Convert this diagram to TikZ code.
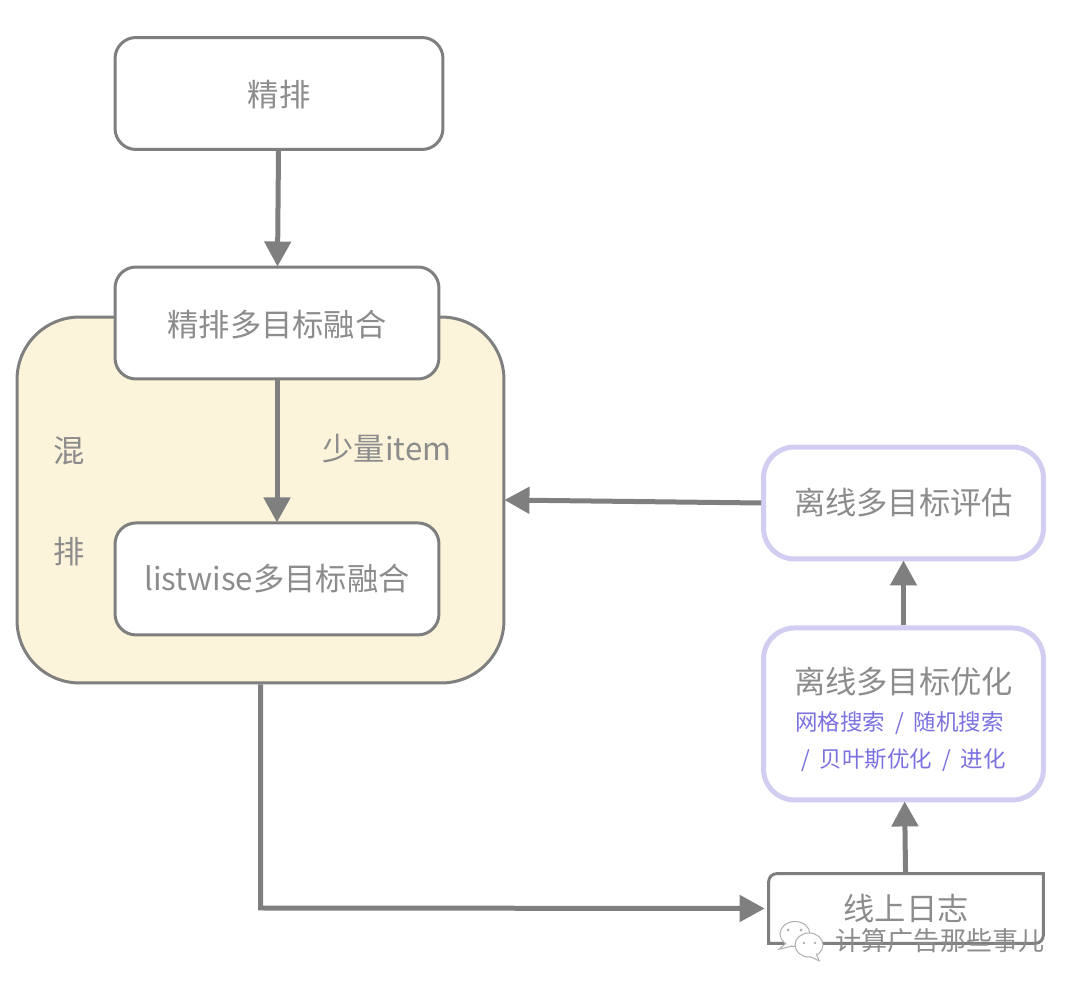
\documentclass[tikz,border=0pt]{standalone}
\usepackage{fontspec}
\setmainfont{Noto Sans CJK SC}
\usetikzlibrary{arrows.meta,positioning,calc,shapes.geometric}
\definecolor{linegray}{HTML}{7F7F7F}
\definecolor{textgray}{HTML}{8C8C8C}
\definecolor{mixyellow}{HTML}{FBF3DA}
\definecolor{lilac}{HTML}{D2CEF2}
\definecolor{violet}{HTML}{7B72E0}
\newcommand{\slashgap}{\ \hspace{2.8pt}}

\begin{document}
\begin{tikzpicture}[
    x=0.02cm, y=0.02cm,
    box/.style={rectangle, draw=linegray, line width=0.06cm, rounded corners=0.42cm, fill=white, text=textgray, minimum width=6.48cm, minimum height=2.24cm, align=center, font=\fontsize{17.8pt}{22pt}\selectfont},
    offline/.style={box, draw=lilac, line width=0.1cm, rounded corners=0.62cm, minimum width=5.6cm},
    plain/.style={text=textgray, inner sep=0pt, font=\fontsize{17.8pt}{22pt}\selectfont},
    bubble/.style={ellipse, draw=textgray!70, line width=0.02cm, fill=white, inner sep=0pt},
    arrow/.style={-{Triangle[length=0.5cm, width=0.52cm]}, draw=linegray, line width=0.1cm, shorten >=-0.02cm}
]
\useasboundingbox (0,0) rectangle (1080,-989);

\node[rectangle, draw=linegray, line width=0.06cm, rounded corners=1.25cm, fill=mixyellow, minimum width=9.74cm, minimum height=7.32cm] (mix) at (260.5,-500) {};

\node[box, minimum width=6.56cm, text depth=0pt] (fine) at (279,-93.5) {精排};
\node[box, text depth=0pt] (fine_fusion) at (277,-323) {精排多目标融合};
\node[box, below=2.82cm of fine_fusion] (list_fusion) {listwise多目标融合};
\node[plain] (mix_a) at (69,-451) {混};
\node[plain, below=1.42cm of mix_a] (mix_b) {排};
\node[plain] (few) at (387,-449) {少量item};

\node[offline] (eval) at (903.5,-503) {离线多目标评估};
\node[offline, minimum height=3.44cm, below=1.28cm of eval] (opt) {\rule{0pt}{21pt}离线多目标优化\\[-1pt]
    {\fontsize{12.8pt}{17pt}\selectfont\color{violet}网格搜索\slashgap/\slashgap 随机搜索\hspace*{0.16cm}}\\[-1pt]
    {\fontsize{12.8pt}{17pt}\selectfont\color{violet}/\slashgap 贝叶斯优化\slashgap/\slashgap 进化}};
\node[plain, minimum width=5.48cm, minimum height=1.38cm] (log) at (906,-908.5) {线上日志};
\coordinate (turn) at (260.5,-908);

% log box is only partly rounded
\draw[draw=linegray, line width=0.06cm] (log.south west) [rounded corners=0.16cm] -- (log.north west) [sharp corners] -- (log.north east) [rounded corners=0.16cm] -- (log.south east) [sharp corners] -- cycle;

\draw[arrow] (fine) -- (fine_fusion);
\draw[arrow] (fine_fusion) -- (list_fusion);
\draw[arrow] (mix.south) -- (turn) -- ([xshift=-0.1cm]log.west);
\draw[arrow] (log) -- (opt);
\draw[arrow] (opt) -- (eval);
\draw[arrow] (eval.west) -- (mix.east);

% watermark
\node[bubble, minimum width=0.6cm, minimum height=0.5cm] (chat_a) at (795,-934) {};
\draw[draw=textgray!70, fill=white, line width=0.02cm] ([xshift=0.04cm]chat_a.south west) -- ++(-7,-6) -- ++(13,3);
\fill[textgray!70] (788,-930) circle (1.5) (801,-930) circle (1.5);
\node[bubble, minimum width=0.56cm, minimum height=0.48cm] (chat_b) at (809,-945) {};
\draw[draw=textgray!70, fill=white, line width=0.02cm] ([xshift=-0.06cm]chat_b.south east) -- ++(3,-7) -- ++(-9,4);
\fill[textgray!70] (804,-943) circle (1.4) (815,-943) circle (1.4);
\node[text=textgray, inner sep=0pt, font=\fontsize{14.8pt}{18pt}\selectfont] (brand) at (940,-941) {计算广告那些事儿};
\end{tikzpicture}
\end{document}
